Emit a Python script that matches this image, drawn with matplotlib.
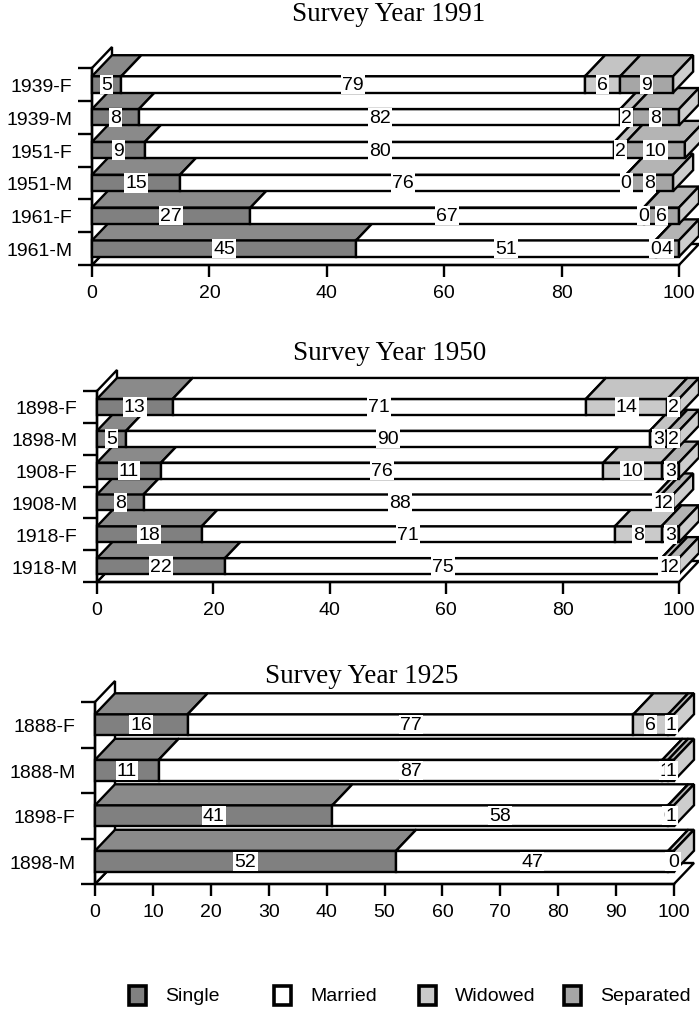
import matplotlib.pyplot as plt
from matplotlib.patches import Polygon, Rectangle

W, H = 699, 1012

# Marital status shares (%) by birth cohort and sex, per survey year
cats_1991 = ['1939-F', '1939-M', '1951-F', '1951-M', '1961-F', '1961-M']
single_1991 = [5, 8, 9, 15, 27, 45]
married_1991 = [79, 82, 80, 76, 67, 51]
widowed_1991 = [6, 2, 2, 0, 0, 0]
separated_1991 = [9, 8, 10, 8, 6, 4]

cats_1950 = ['1898-F', '1898-M', '1908-F', '1908-M', '1918-F', '1918-M']
single_1950 = [13, 5, 11, 8, 18, 22]
married_1950 = [71, 90, 76, 88, 71, 75]
widowed_1950 = [14, 3, 10, 1, 8, 1]
separated_1950 = [2, 2, 3, 2, 3, 2]

cats_1925 = ['1888-F', '1888-M', '1898-F', '1898-M']
single_1925 = [16, 11, 41, 52]
married_1925 = [77, 87, 58, 47]
widowed_1925 = [6, 1, 0, 1]
separated_1925 = [1, 1, 1, 0]

status = ['Single', 'Married', 'Widowed', 'Separated']
front_colors = ['#808080', '#ffffff', '#cacaca', '#a6a6a6']
top_colors = ['#8a8a8a', '#ffffff', '#c4c4c4', '#b4b4b4']
side_color = '#cdcdcd'

LW = 1.7
sans = 'Liberation Sans'
serif = 'Liberation Serif'
FS = 14

fig = plt.figure(figsize=(W / 100, H / 100), dpi=100)


def px_axes(x0, x1, ytop, ybot):
    return fig.add_axes([x0 / W, 1 - ybot / H, (x1 - x0) / W, (ybot - ytop) / H])


def draw_panel(ax, cats, series, xticks, face_h, title, title_x, title_y,
               dx_px=20, dy_px=21):
    n = len(cats)
    ax.set_xlim(0, 100)
    ax.set_ylim(0, n)
    pos = ax.get_position()
    dx = dx_px / (pos.width * W / 100)
    dy = dy_px / (pos.height * H / n)

    # floor and left wall of the 3-D box
    ax.add_patch(Polygon([(0, 0), (100, 0), (100 + dx, dy), (dx, dy)],
                         closed=True, fc='white', ec='black', lw=LW,
                         clip_on=False, zorder=1))
    ax.add_patch(Polygon([(0, 0), (0, n), (dx, n + dy), (dx, dy)],
                         closed=True, fc='white', ec='black', lw=LW,
                         clip_on=False, zorder=1))

    for i, cat in enumerate(cats):
        y = n - 1 - i + 0.5
        y0, y1 = y - face_h / 2, y + face_h / 2
        z = 3 + (n - i)
        left = 0
        for j, vals in enumerate(series):
            w = vals[i]
            ax.barh(y, w, left=left, height=face_h, color=front_colors[j],
                    edgecolor='black', lw=LW, zorder=z, clip_on=False)
            ax.add_patch(Polygon([(left, y1), (left + w, y1),
                                  (left + w + dx, y1 + dy), (left + dx, y1 + dy)],
                                 closed=True, fc=top_colors[j], ec='black',
                                 lw=LW, zorder=z, clip_on=False))
            ax.text(left + w / 2, y, str(w), ha='center', va='center',
                    fontsize=FS, family=sans, zorder=z + 0.5,
                    bbox=dict(boxstyle='square,pad=0.06', fc='white', ec='none'))
            left += w
        # right end of the bar
        ax.add_patch(Polygon([(left, y0), (left + dx, y0 + dy),
                              (left + dx, y1 + dy), (left, y1)],
                             closed=True, fc=side_color, ec='black', lw=LW,
                             zorder=z, clip_on=False))

    ax.set_yticks([n - 1 - i + 0.5 for i in range(n)])
    ax.set_yticklabels(cats, family=sans, fontsize=FS)
    ax.set_yticks(range(n + 1), minor=True)
    ax.tick_params(axis='y', which='major', length=0, pad=14)
    ax.tick_params(axis='y', which='minor', length=10, width=LW)
    ax.set_xticks(xticks)
    ax.set_xticklabels([str(t) for t in xticks], family=sans, fontsize=FS)
    ax.tick_params(axis='x', length=8.5, width=LW, pad=5)
    for s in ['top', 'right']:
        ax.spines[s].set_visible(False)
    for s in ['left', 'bottom']:
        ax.spines[s].set_linewidth(LW)
    ax.patch.set_visible(False)

    fig.text(title_x / W, 1 - title_y / H, title, ha='center', va='baseline',
             family=serif, fontsize=19.5)


ax1 = px_axes(92, 679, 69, 266)
draw_panel(ax1, cats_1991,
           [single_1991, married_1991, widowed_1991, separated_1991],
           [0, 20, 40, 60, 80, 100], 0.5, 'Survey Year 1991', 389, 21)

ax2 = px_axes(97, 679, 392, 583)
draw_panel(ax2, cats_1950,
           [single_1950, married_1950, widowed_1950, separated_1950],
           [0, 20, 40, 60, 80, 100], 0.5, 'Survey Year 1950', 390, 360)

ax3 = px_axes(95, 674, 703, 885)
draw_panel(ax3, cats_1925,
           [single_1925, married_1925, widowed_1925, separated_1925],
           list(range(0, 101, 10)), 0.46, 'Survey Year 1925', 362, 683)

# legend row
leg = fig.add_axes([0, 0, 1, 1])
leg.set_xlim(0, W)
leg.set_ylim(H, 0)
leg.axis('off')
for k, name in enumerate(status):
    x = 129 + 145 * k
    leg.add_patch(Rectangle((x, 987), 17, 19, fc=front_colors[k], ec='black', lw=2.6))
    leg.text(x + 36, 997, name, ha='left', va='center', family=sans, fontsize=FS)

fig.savefig('out.png', dpi=100)
